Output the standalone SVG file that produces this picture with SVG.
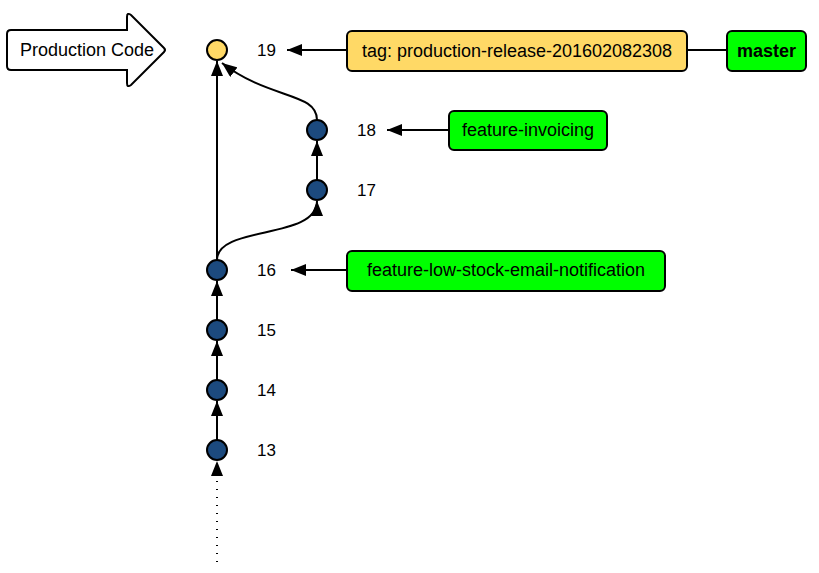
<svg xmlns="http://www.w3.org/2000/svg" width="819" height="573" viewBox="0 0 819 573">
<style>
.lbl{font-family:"Liberation Sans",Arial,sans-serif;font-size:18px;fill:#000}
.num{font-family:"Liberation Sans",Arial,sans-serif;font-size:17px;fill:#000}
.c{stroke:#000;stroke-width:2;fill:none}
.commit{fill:#1c4a7e;stroke:#000;stroke-width:2}
.box{stroke:#000;stroke-width:2}
</style>
<defs>
<marker id="ah" viewBox="0 0 15 12" refX="15" refY="6" markerWidth="15" markerHeight="12" markerUnits="userSpaceOnUse" orient="auto">
<path d="M0,0 L15,6 L0,12 Z" fill="#000"/>
</marker>
</defs>
<g id="production-code">
<path d="M11,30 L127,30 L127,17 Q127,12 131,15 L164,48 Q166,50 164,52 L131,85 Q127,88 127,83 L127,70 L11,70 Q7,70 7,66 L7,34 Q7,30 11,30 Z" fill="#fff" stroke="#000" stroke-width="2"/>
<text class="lbl" x="87" y="56" text-anchor="middle">Production Code</text>
</g>
<g id="connectors">
<line class="c" x1="347" y1="50" x2="287" y2="50" marker-end="url(#ah)"/>
<line class="c" x1="687" y1="50" x2="727" y2="50"/>
<line class="c" x1="449" y1="130" x2="387" y2="130" marker-end="url(#ah)"/>
<line class="c" x1="347" y1="270" x2="291" y2="270" marker-end="url(#ah)"/>
<line class="c" x1="217" y1="260" x2="217" y2="61" marker-end="url(#ah)"/>
<path class="c" d="M217,260 C217,225 317,240 317,201" marker-end="url(#ah)"/>
<line class="c" x1="317" y1="180" x2="317" y2="141" marker-end="url(#ah)"/>
<path class="c" d="M317,120 C317,92 270,100 222,63" marker-end="url(#ah)"/>
<line class="c" x1="217" y1="320" x2="217" y2="281" marker-end="url(#ah)"/>
<line class="c" x1="217" y1="380" x2="217" y2="341" marker-end="url(#ah)"/>
<line class="c" x1="217" y1="440" x2="217" y2="401" marker-end="url(#ah)"/>
<line x1="217" y1="562" x2="217" y2="473" stroke="#000" stroke-width="2" stroke-dasharray="1,7"/>
<path d="M211,476 L217,461 L223,476 Z" fill="#000"/>
</g>
<g id="c19"><circle cx="217" cy="50" r="10" fill="#ffd966" stroke="#000" stroke-width="2"/><text class="num" x="257" y="56">19</text></g>
<g id="c18"><circle class="commit" cx="317" cy="130" r="10"/><text class="num" x="357" y="136">18</text></g>
<g id="c17"><circle class="commit" cx="317" cy="190" r="10"/><text class="num" x="357" y="196">17</text></g>
<g id="c16"><circle class="commit" cx="217" cy="270" r="10"/><text class="num" x="257" y="276">16</text></g>
<g id="c15"><circle class="commit" cx="217" cy="330" r="10"/><text class="num" x="257" y="336">15</text></g>
<g id="c14"><circle class="commit" cx="217" cy="390" r="10"/><text class="num" x="257" y="396">14</text></g>
<g id="c13"><circle class="commit" cx="217" cy="450" r="10"/><text class="num" x="257" y="456">13</text></g>
<g id="tag"><rect class="box" x="347" y="31" width="340" height="40" rx="5" fill="#ffd966"/><text class="lbl" x="517" y="57" text-anchor="middle">tag: production-release-201602082308</text></g>
<g id="master"><rect class="box" x="727" y="31" width="79" height="40" rx="5" fill="#00ff00"/><text class="lbl" x="766.5" y="57" text-anchor="middle" font-weight="bold">master</text></g>
<g id="feature-invoicing"><rect class="box" x="449" y="111" width="158" height="39" rx="5" fill="#00ff00"/><text class="lbl" x="528" y="136" text-anchor="middle">feature-invoicing</text></g>
<g id="feature-low-stock"><rect class="box" x="347" y="251" width="318" height="40" rx="5" fill="#00ff00"/><text class="lbl" x="506" y="276" text-anchor="middle">feature-low-stock-email-notification</text></g>
</svg>
